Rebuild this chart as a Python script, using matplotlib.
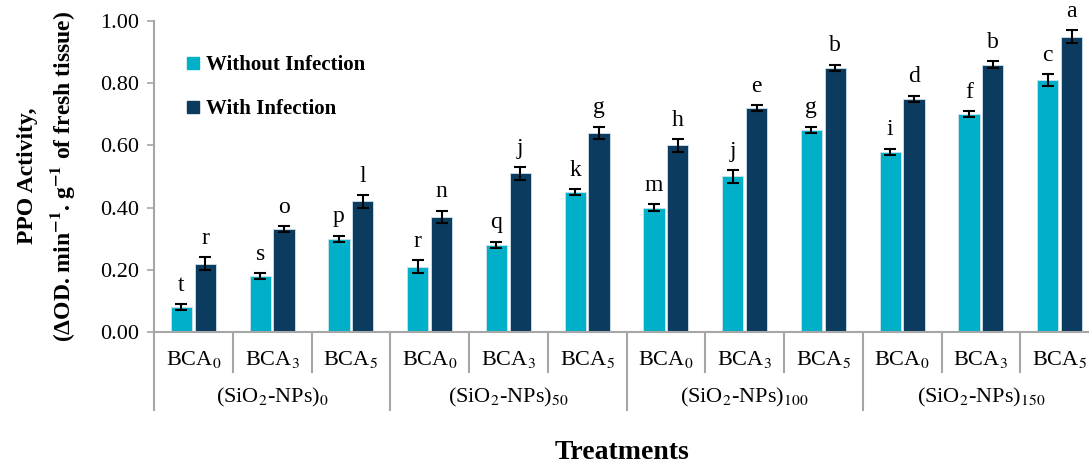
import numpy as np
import matplotlib.pyplot as plt
from matplotlib.lines import Line2D

plt.rcParams['font.family'] = ['Liberation Serif', 'DejaVu Serif']
plt.rcParams['mathtext.fontset'] = 'stix'

# PPO activity data
bca = ['BCA$_0$', 'BCA$_3$', 'BCA$_5$']
sio2 = ['(SiO$_2$-NPs)$_0$', '(SiO$_2$-NPs)$_{50}$', '(SiO$_2$-NPs)$_{100}$', '(SiO$_2$-NPs)$_{150}$']
without_inf = [0.08, 0.18, 0.30, 0.21, 0.28, 0.45, 0.40, 0.50, 0.65, 0.58, 0.70, 0.81]
without_err = [0.01, 0.01, 0.01, 0.02, 0.01, 0.01, 0.01, 0.02, 0.01, 0.01, 0.01, 0.02]
without_let = ['t', 's', 'p', 'r', 'q', 'k', 'm', 'j', 'g', 'i', 'f', 'c']
with_inf = [0.22, 0.33, 0.42, 0.37, 0.51, 0.64, 0.60, 0.72, 0.85, 0.75, 0.86, 0.95]
with_err = [0.02, 0.01, 0.02, 0.02, 0.02, 0.02, 0.02, 0.01, 0.01, 0.01, 0.01, 0.02]
with_let = ['r', 'o', 'l', 'n', 'j', 'g', 'h', 'e', 'b', 'd', 'b', 'a']

c_without = '#00afc8'
c_with = '#0b3b5f'
grey = '#a6a6a6'

fig = plt.figure(figsize=(10.89, 4.65), dpi=100)
ax = fig.add_axes([154/1089, 133/465, 945/1089, 311/465])

x = np.arange(len(without_inf))
w = 0.27
off = 0.152
ax.bar(x - off, without_inf, w, color=c_without, edgecolor='#cfe3ec', linewidth=0.6,
       yerr=without_err, error_kw=dict(ecolor='black', elinewidth=1.5, capsize=4, capthick=1.5))
ax.bar(x + off, with_inf, w, color=c_with, edgecolor='#cfe3ec', linewidth=0.6,
       yerr=with_err, error_kw=dict(ecolor='black', elinewidth=1.5, capsize=4, capthick=1.5))

# significance letters
for i in range(len(x)):
    ax.annotate(without_let[i], (x[i] - off, without_inf[i] + without_err[i]),
                xytext=(0, 6), textcoords='offset points', ha='center', va='bottom', fontsize=17)
    ax.annotate(with_let[i], (x[i] + off, with_inf[i] + with_err[i]),
                xytext=(0, 6), textcoords='offset points', ha='center', va='bottom', fontsize=17)

ax.set_xlim(-0.5, 11.5)
ax.set_ylim(0, 1.0)
ax.set_yticks(np.arange(0, 1.01, 0.2))
ax.set_yticklabels(['%.2f' % v for v in np.arange(0, 1.01, 0.2)])
ax.tick_params(axis='y', labelsize=16, length=5, width=1.2, color=grey, pad=6)
ax.set_xticks([])
for s in ['top', 'right']:
    ax.spines[s].set_visible(False)
for s in ['left', 'bottom']:
    ax.spines[s].set_color(grey)
    ax.spines[s].set_linewidth(1.5)

# two-level category axis
trans = ax.get_xaxis_transform()
for b in np.arange(-0.5, 12, 1.0):
    bottom = -0.252 if (b + 0.5) % 3 == 0 else -0.128
    ax.plot([b, b], [0, bottom], transform=trans, color=grey, lw=1.5, clip_on=False)
for i in range(len(x)):
    ax.text(x[i], -0.09, bca[i % 3], transform=trans, ha='center', va='center', fontsize=16)
for g in range(4):
    ax.text(3 * g + 1, -0.212, sio2[g], transform=trans, ha='center', va='center', fontsize=16)

fig.text(622/1089, 1 - 452/465, 'Treatments', ha='center', va='center', fontsize=20, fontweight='bold')
fig.text(28/1089, 1 - 176/465, 'PPO Activity,', rotation=90, ha='center', va='center',
         fontsize=17, fontweight='bold')
fig.text(63/1089, 1 - 176/465, '(ΔOD. min$^{\\mathbf{-1}}$. g$^{\\mathbf{-1}}$ of fresh tissue)',
         rotation=90, ha='center', va='center', fontsize=17, fontweight='bold')

handles = [Line2D([], [], marker='s', linestyle='none', markersize=9, color=c_without),
           Line2D([], [], marker='s', linestyle='none', markersize=9, color=c_with)]
ax.legend(handles, ['Without Infection', 'With Infection'], loc='upper left',
          bbox_to_anchor=(0.015, 0.95), frameon=False, handlelength=0.6, handletextpad=0.3,
          labelspacing=1.15, prop={'weight': 'bold', 'size': 15})

fig.savefig('out.png', dpi=100)
